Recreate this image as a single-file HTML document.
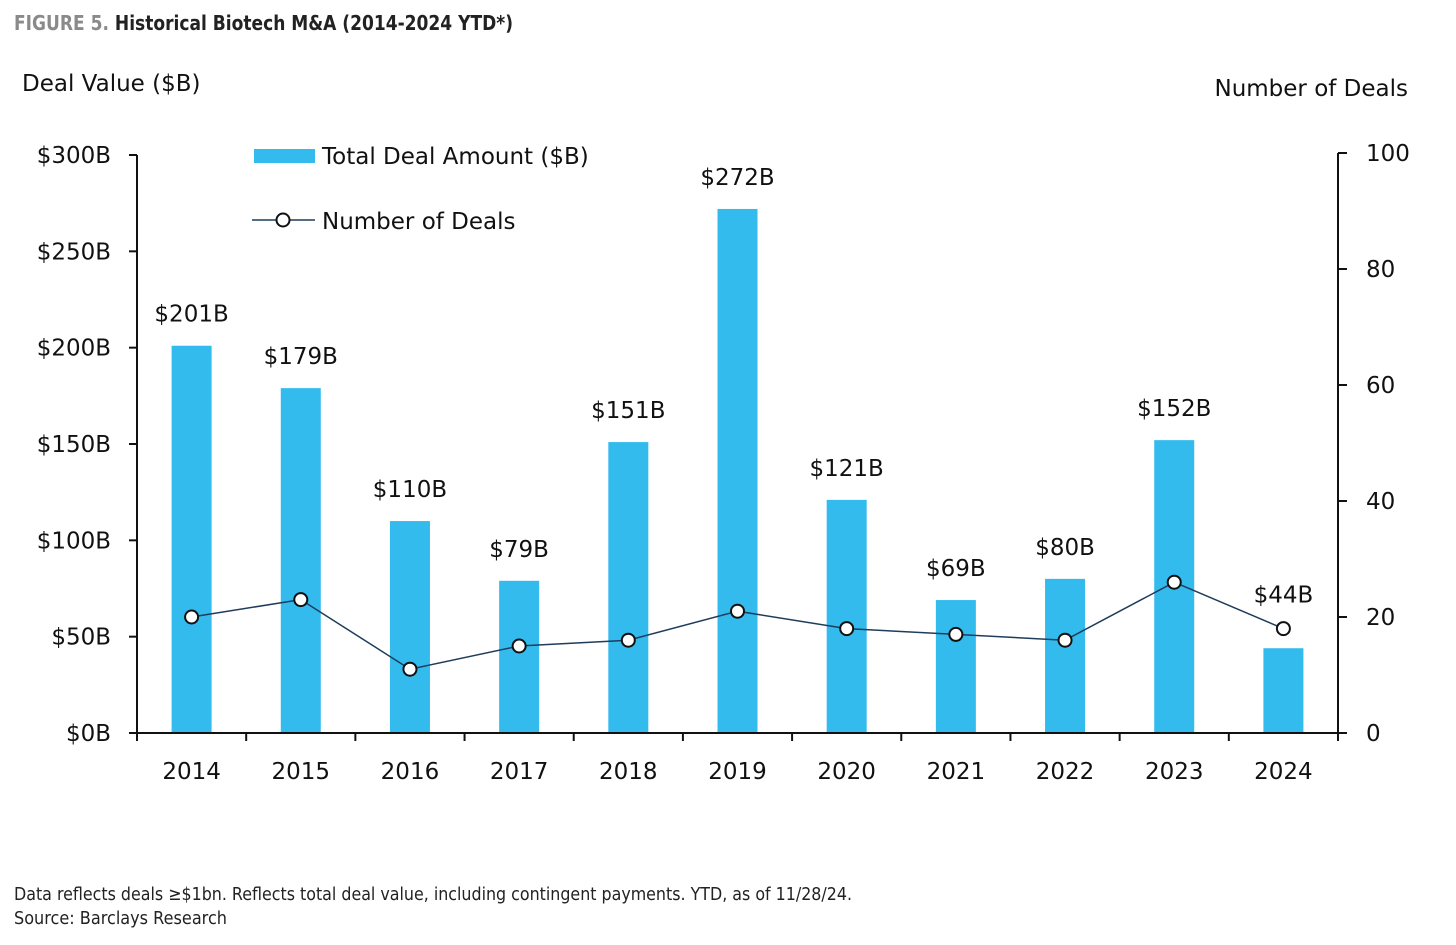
<!DOCTYPE html>
<html><head><meta charset="utf-8"><style>
body{margin:0;background:#fff;width:1456px;height:940px;overflow:hidden;font-family:"Liberation Sans","DejaVu Sans",sans-serif}
</style></head><body>
<svg width="1456" height="940" font-family="DejaVu Sans, Liberation Sans, sans-serif">
<text x="14" y="30" font-size="20" font-weight="bold" font-family="DejaVu Sans, sans-serif" textLength="499" lengthAdjust="spacingAndGlyphs"><tspan fill="#8a8a8a">FIGURE 5.</tspan><tspan fill="#222"> Historical Biotech M&amp;A (2014-2024 YTD*)</tspan></text>
<text x="22" y="91" font-size="23" fill="#111">Deal Value ($B)</text>
<text x="1408" y="96" font-size="23" fill="#111" text-anchor="end">Number of Deals</text>
<g id="plot"></g>
<g>
<rect x="254" y="149" width="61" height="14" fill="#33bbee"/>
<text x="322" y="164" font-size="23" fill="#111">Total Deal Amount ($B)</text>
<line x1="252" y1="220" x2="315" y2="220" stroke="#1f3c5a" stroke-width="1.5"/>
<circle cx="283" cy="220" r="6.5" fill="#fff" stroke="#111" stroke-width="2"/>
<text x="322" y="229" font-size="23" fill="#111">Number of Deals</text>
</g>
<text x="14" y="900" font-size="18" fill="#222" font-family="DejaVu Sans, sans-serif" textLength="838" lengthAdjust="spacingAndGlyphs">Data reflects deals ≥$1bn. Reflects total deal value, including contingent payments. YTD, as of 11/28/24.</text>
<text x="14" y="924" font-size="18" fill="#222" font-family="DejaVu Sans, sans-serif" textLength="213" lengthAdjust="spacingAndGlyphs">Source: Barclays Research</text>
</svg>
<script>
const years=["2014","2015","2016","2017","2018","2019","2020","2021","2022","2023","2024"];
const dealValues=[201,179,110,79,151,272,121,69,80,152,44];
const dealCounts=[20,23,11,15,16,21,18,17,16,26,18];
const leftTicks=[0,50,100,150,200,250,300];
const rightTicks=[0,20,40,60,80,100];
const NS="http://www.w3.org/2000/svg";
const g=document.getElementById('plot');
const X0=137,X1=1338,Y0=733,YT=155,YTR=153;
const band=(X1-X0)/years.length;
const xc=i=>X0+band*(i+0.5);
const yL=v=>Y0-(v/300)*(Y0-YT);
const yR=v=>Y0-(v/100)*(Y0-YTR);
function mk(t,a){const e=document.createElementNS(NS,t);for(const k in a)e.setAttribute(k,a[k]);g.appendChild(e);return e;}
dealValues.forEach((v,i)=>{
 const r=mk('rect',{x:xc(i)-20,y:yL(v),width:40,height:Y0-yL(v),fill:'#33bbee'});
 
 
 const ly=Math.min(yL(v)-24,yR(dealCounts[i])-26);
 const t=mk('text',{x:xc(i),y:ly,'font-size':23,fill:'#111','text-anchor':'middle'});
 t.textContent='$'+v+'B';
 
 
 const xl=mk('text',{x:xc(i),y:779,'font-size':23,fill:'#111','text-anchor':'middle'});
 xl.textContent=years[i];
 
 
});
const ax=mk('line',{x1:X0,y1:YT,x2:X0,y2:Y0,stroke:'#111','stroke-width':2});


const ar=mk('line',{x1:X1,y1:YTR,x2:X1,y2:Y0,stroke:'#111','stroke-width':2});


const xa=mk('line',{x1:X0,y1:Y0,x2:X1,y2:Y0,stroke:'#111','stroke-width':2});


for(let i=0;i<=years.length;i++){
 const tk=mk('line',{x1:X0+band*i,y1:Y0,x2:X0+band*i,y2:Y0+8,stroke:'#111','stroke-width':2});
 
 
}
leftTicks.forEach(v=>{
 const tk=mk('line',{x1:X0-8,y1:yL(v),x2:X0,y2:yL(v),stroke:'#111','stroke-width':2});
 
 
 const t=mk('text',{x:111,y:yL(v)+8,'font-size':23,fill:'#111','text-anchor':'end'});
 t.textContent='$'+v+'B';
 
 
});
rightTicks.forEach(v=>{
 const tk=mk('line',{x1:X1,y1:yR(v),x2:X1+9,y2:yR(v),stroke:'#111','stroke-width':2});
 
 
 const t=mk('text',{x:1366,y:yR(v)+8,'font-size':23,fill:'#111'});
 t.textContent=v;
 
 
});
const pl=mk('polyline',{points:dealCounts.map((v,i)=>xc(i)+','+yR(v)).join(' '),fill:'none',stroke:'#1f3c5a','stroke-width':1.5});


dealCounts.forEach((v,i)=>{
 const c=mk('circle',{cx:xc(i),cy:yR(v),r:6.5,fill:'#fff',stroke:'#111','stroke-width':2});
 
 
});
</script>
</body></html>
